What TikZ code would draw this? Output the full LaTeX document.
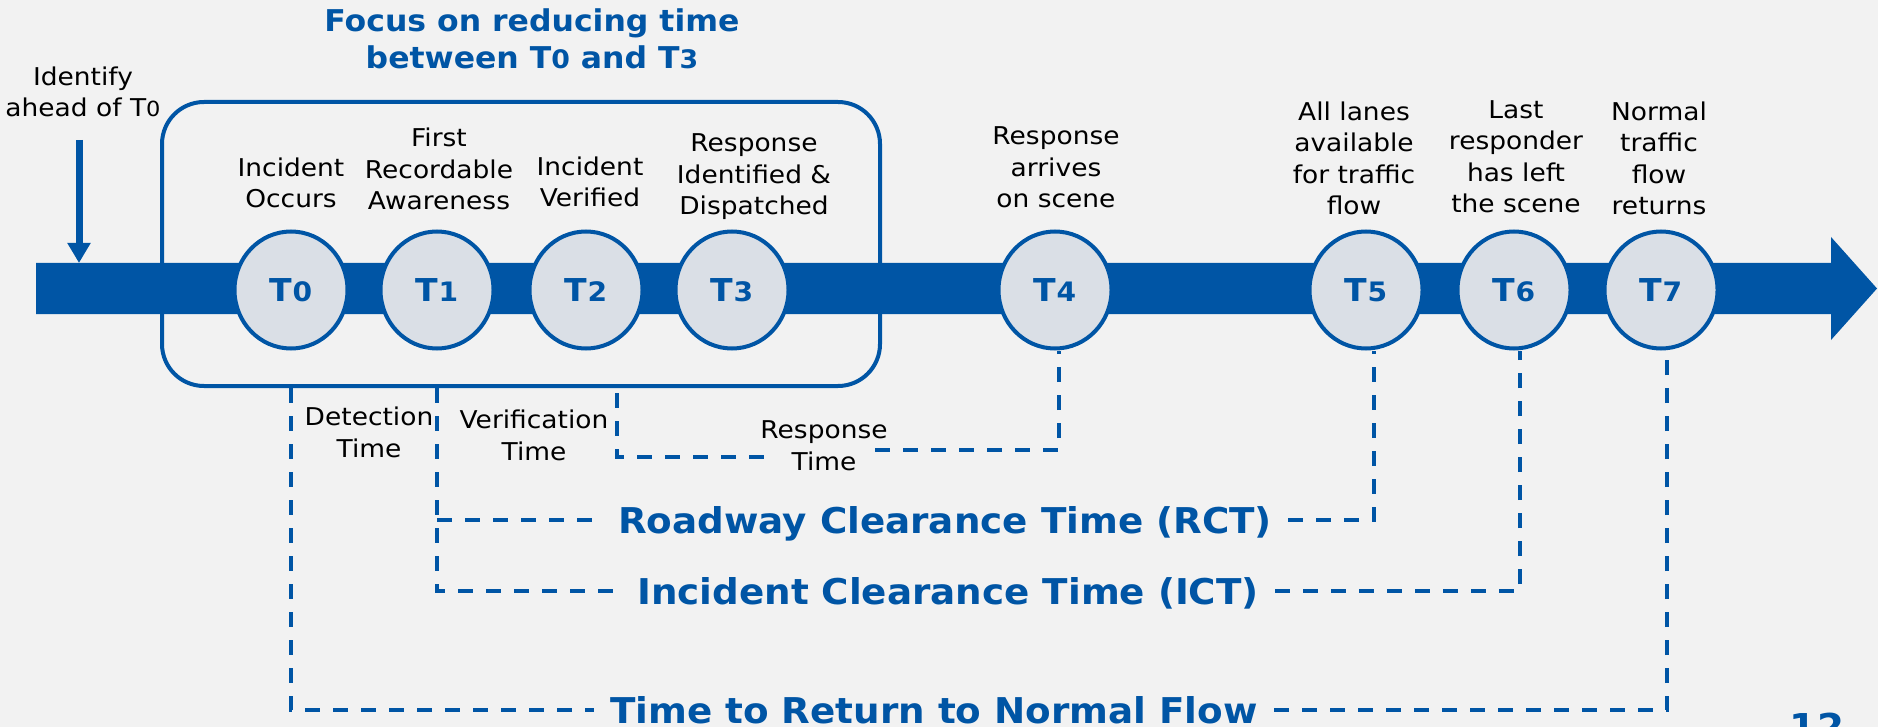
\documentclass[tikz,border=0pt]{standalone}
\usepackage{fontspec}
\setmainfont{DejaVu Sans}[UprightFeatures={FakeStretch=1.08}, BoldFeatures={FakeStretch=1.05}]
\usetikzlibrary{shapes.geometric,arrows.meta}
\definecolor{dblue}{RGB}{0,85,165}
\definecolor{cfill}{RGB}{218,223,230}
\definecolor{bgc}{RGB}{242,242,242}
\newcommand\smdig[1]{\scalebox{0.85}{#1}}
\begin{document}
\begin{tikzpicture}[x=1pt,y=-1pt,
  lbl/.style={font=\fontsize{24.5}{31.5}\selectfont, align=center, text=black, anchor=base, inner sep=0pt},
  ttl/.style={font=\bfseries\fontsize{30}{37}\selectfont, align=center, text=dblue, anchor=base, inner sep=0pt},
  tnode/.style={ellipse, draw=dblue, line width=4pt, fill=cfill, minimum width=113pt, minimum height=117pt, inner sep=0pt,
    font=\bfseries\fontsize{31.5}{31.5}\selectfont, text=dblue, text height=23pt, text depth=0pt},
  big/.style={font=\bfseries\fontsize{35.5}{35.5}\selectfont, text=dblue, inner xsep=16pt, inner ysep=0pt, text height=26pt, text depth=0pt},
  dl/.style={draw=dblue, line width=4pt, dash pattern=on 15pt off 13pt},
  focusbox/.style={draw=dblue, line width=4pt, rounded corners=42pt, minimum width=718pt, minimum height=284pt, inner sep=0pt}
]
\useasboundingbox[fill=bgc] (0,0) rectangle (1878,727);

% main time band arrow
\fill[dblue] (36,263) -- (1831,263) -- (1831,237) -- (1877,288.5) -- (1831,340) -- (1831,314) -- (36,314) -- cycle;

% focus box
\node[focusbox] (focus) at (521,244) {};

% title
\node[ttl] (title) at (532,69) {Focus on reducing time\\between T\smdig{0} and T\smdig{3}};

% identify ahead
\node[lbl] (ident) at (83,117) {Identify\\ahead of T\smdig{0}};
\coordinate (idtop) at (79,140);
\coordinate (idbot) at (79,263);
\draw[dblue, line width=7pt, -{Triangle[width=22pt,length=20pt]}] (idtop) -- (idbot);

% time points
\node[tnode] (T0) at (291,290) {T\smdig{0}};
\node[tnode] (T1) at (437,290) {T\smdig{1}};
\node[tnode] (T2) at (586,290) {T\smdig{2}};
\node[tnode] (T3) at (732,290) {T\smdig{3}};
\node[tnode] (T4) at (1055,290) {T\smdig{4}};
\node[tnode] (T5) at (1366,290) {T\smdig{5}};
\node[tnode] (T6) at (1514,290) {T\smdig{6}};
\node[tnode] (T7) at (1661,290) {T\smdig{7}};

% labels above
\node[lbl] (L0) at (291,208) {Incident\\Occurs};
\node[lbl] (L1) at (439,210) {First\\Recordable\\Awareness};
\node[lbl] (L2) at (590,207) {Incident\\Verified};
\node[lbl] (L3) at (754,215) {Response\\Identified \&\\Dispatched};
\node[lbl] (L4) at (1056,208) {Response\\arrives\\on scene};
\node[lbl] (L5) at (1354,215) {All lanes\\available\\for traffic\\flow};
\node[lbl] (L6) at (1516,213) {Last\\responder\\has left\\the scene};
\node[lbl] (L7) at (1659,215) {Normal\\traffic\\flow\\returns};

% interval labels
\node[lbl] (det) at (369,457) {Detection\\Time};
\node[lbl] (ver) at (534,460) {Verification\\Time};
\node[lbl] (resp) at (824,470) {Response\\Time};

\node[big] (rct) at (945,520) {Roadway Clearance Time (RCT)};
\node[big] (ict) at (948,591) {Incident Clearance Time (ICT)};
\node[big] (trnf) at (934,710) {Time to Return to Normal Flow};

% slide number (cut off)
\node[font=\bfseries\fontsize{37}{37}\selectfont, text=dblue, anchor=base, inner sep=0pt] (pg) at (1817,740) {12};

% dashed interval lines
\draw[dl] (T0 |- focus.south) |- (trnf.west);
\draw[dl] (trnf.east) -| ([xshift=6pt]T7.south);

\draw[dl] (T1 |- focus.south) |- (ict.west);
\draw[dl] (T1 |- rct.west) -- (rct.west);
\draw[dl] (rct.east) -| ([xshift=8pt]T5.south);
\draw[dl] (ict.east) -| ([xshift=6pt]T6.south);

\coordinate (v2) at (617,393);
\coordinate (rl) at (776,457);
\coordinate (rr) at (875,450);
\draw[dl] (v2) |- (rl);
\draw[dl] (rr) -| ([xshift=4pt]T4.south);
\end{tikzpicture}
\end{document}
